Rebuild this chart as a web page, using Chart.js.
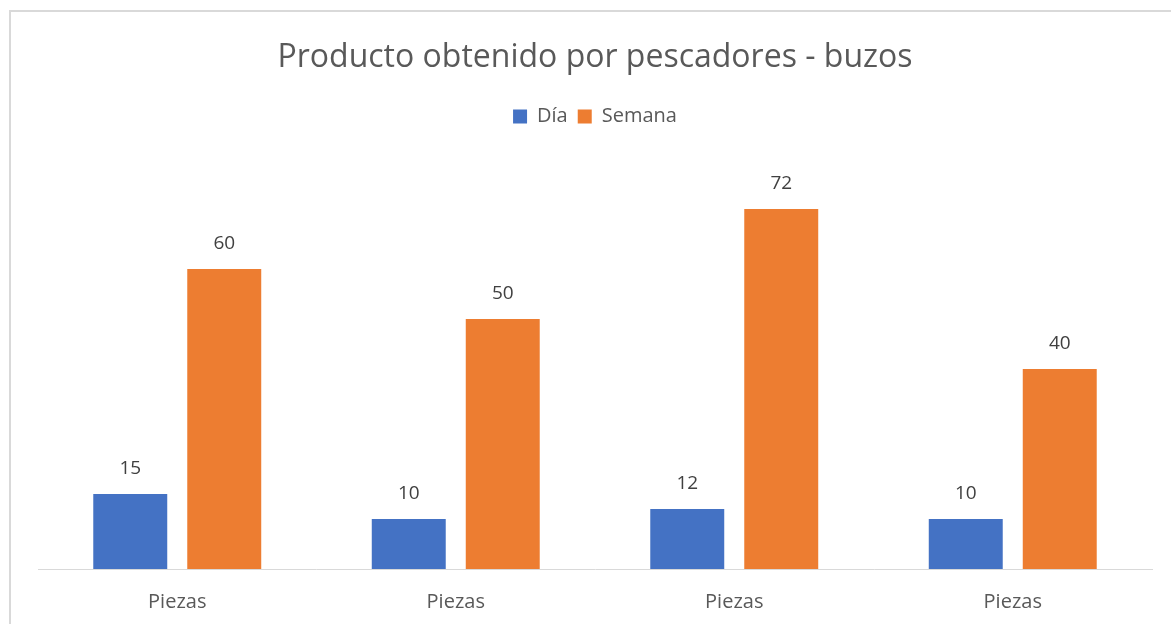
<!DOCTYPE html>
<html>
<head>
<meta charset="utf-8">
<script src="https://cdn.jsdelivr.net/npm/chart.js@4.4.1/dist/chart.umd.min.js"></script>
<style>
  html, body { margin: 0; padding: 0; background: #fff; overflow: hidden; }
  #frame { position: absolute; left: 9px; top: 10px; width: 1200px; height: 700px; border: 2px solid #d9d9d9; box-sizing: border-box; }
  #wrap { position: absolute; left: 0; top: 0; width: 1171px; height: 624px; }
</style>
</head>
<body>
<div id="frame"></div>
<div id="wrap"><canvas id="chart" width="1171" height="624"></canvas></div>
<script>
const categories = ["Piezas", "Piezas", "Piezas", "Piezas"];
const dia = [15, 10, 12, 10];
const semana = [60, 50, 72, 40];

const FONT = "'Open Sans', 'Noto Sans', sans-serif";

// etiquetas de valor encima de cada barra
const valueLabels = {
  id: "valueLabels",
  afterDatasetsDraw(chart) {
    const ctx = chart.ctx;
    ctx.save();
    ctx.font = "19px " + FONT;
    ctx.fillStyle = "#404040";
    ctx.textAlign = "center";
    ctx.textBaseline = "middle";
    chart.data.datasets.forEach((ds, i) => {
      chart.getDatasetMeta(i).data.forEach((bar, j) => {
        ctx.fillText(ds.data[j], bar.x, bar.y - 25);
      });
    });
    ctx.restore();
  },
};

new Chart(document.getElementById("chart").getContext("2d"), {
  type: "bar",
  data: {
    labels: categories,
    datasets: [
      { label: "Día", data: dia, backgroundColor: "#4472c4" },
      { label: "Semana", data: semana, backgroundColor: "#ed7d31" },
    ],
  },
  options: {
    responsive: false,
    animation: false,
    layout: { padding: { left: 38, right: 19, top: 10, bottom: 0 } },
    datasets: {
      bar: { categoryPercentage: 0.675, barPercentage: 0.787 },
    },
    scales: {
      x: {
        grid: { display: false },
        border: { display: true, color: "#d9d9d9", width: 1 },
        ticks: { color: "#595959", font: { family: FONT, size: 20 }, padding: 13 },
        afterFit: (scale) => { scale.height = 55; },
      },
      y: {
        display: false,
        min: 0,
        max: 86.5,
      },
    },
    plugins: {
      title: {
        display: true,
        text: "Producto obtenido por pescadores - buzos",
        color: "#595959",
        font: { family: FONT, size: 32, weight: "normal" },
        padding: { top: 29, bottom: 19 },
      },
      legend: {
        position: "top",
        labels: {
          color: "#595959",
          font: { family: FONT, size: 20 },
          boxWidth: 14,
          boxHeight: 14,
          padding: 10,
        },
      },
      tooltip: { enabled: false },
    },
  },
  plugins: [valueLabels],
});
</script>
</body>
</html>
